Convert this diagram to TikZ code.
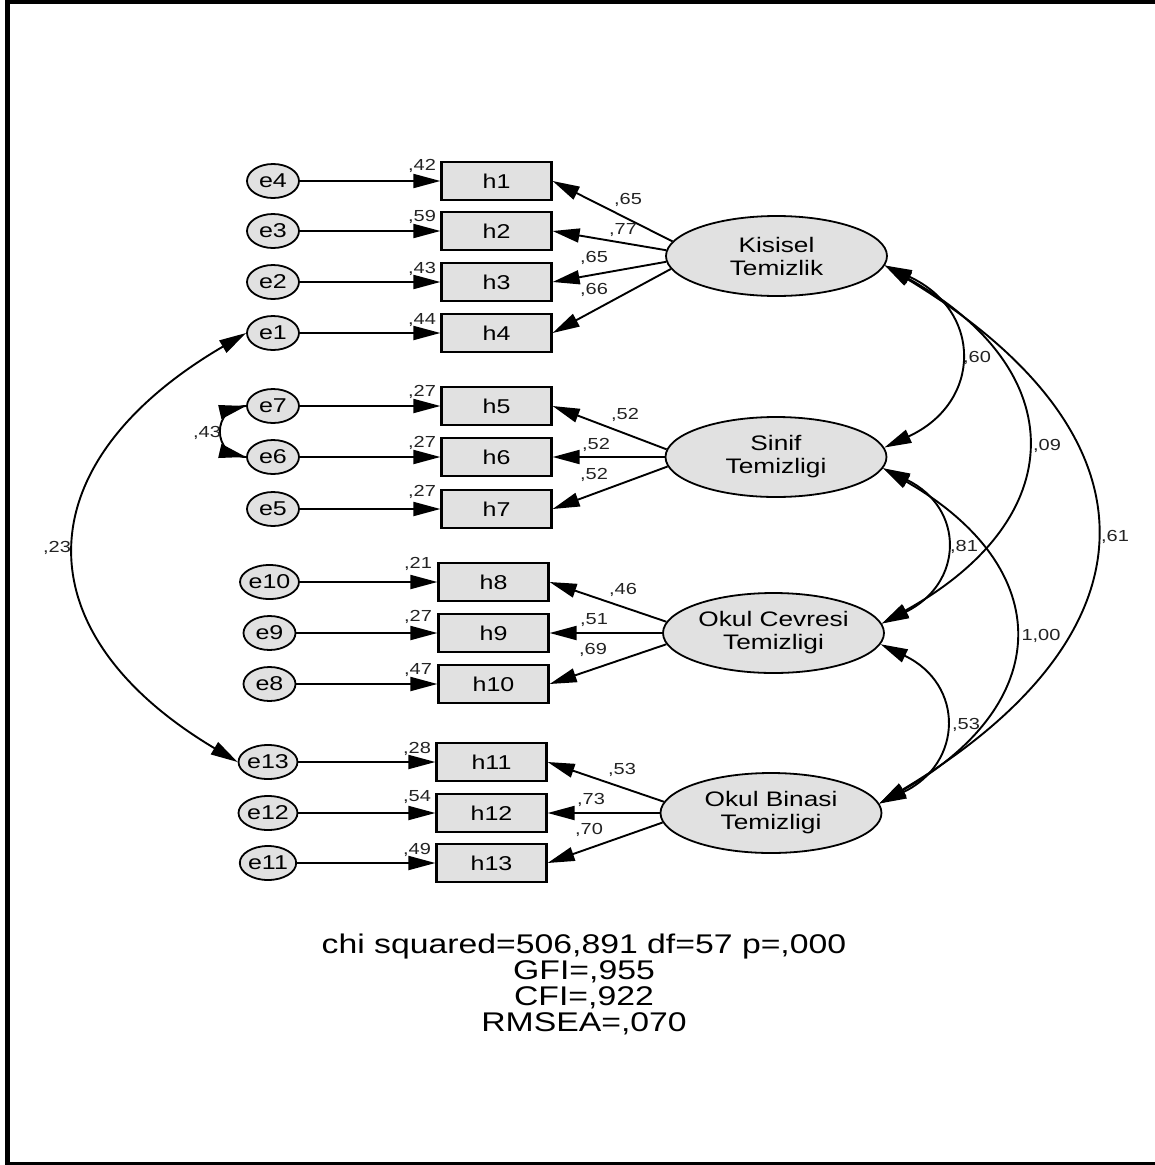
\documentclass[tikz,border=0pt]{standalone}
\usepackage{fontspec}
\setmainfont{Liberation Sans}[FakeStretch=1.25]
\usetikzlibrary{arrows.meta,shapes.geometric}
\definecolor{nodefill}{RGB}{225,225,225}
\definecolor{lblc}{RGB}{35,35,35}
\begin{document}
\begin{tikzpicture}[x=1pt,y=-1pt,
  errnode/.style={ellipse, draw, line width=1.8pt, fill=nodefill, minimum width=52pt, minimum height=34pt, inner sep=0pt, font=\fontsize{20}{22}\selectfont},
  obs/.style={rectangle, draw, line width=2.2pt, fill=nodefill, minimum width=110pt, minimum height=38pt, inner sep=0pt, font=\fontsize{20}{22}\selectfont},
  lat/.style={ellipse, draw, line width=1.8pt, fill=nodefill, minimum width=221pt, minimum height=80pt, inner sep=0pt, align=center, font=\fontsize{21}{23}\selectfont},
  lbl/.style={font=\fontsize{16}{18}\selectfont, text=lblc, inner sep=0pt},
  arr/.style={line width=1.9pt, -{Triangle[length=27pt,width=14pt]}},
  cov/.style={line width=1.9pt, {Triangle[length=27pt,width=14pt]}-{Triangle[length=27pt,width=14pt]}},
  plain/.style={line width=1.9pt}
]
\useasboundingbox (0,0) rectangle (1155,1165);
\fill[white] (0,0) rectangle (1155,1165);
% frame
\draw[line width=5pt] (7.5,0) -- (7.5,1165);
\draw[line width=4pt] (5,2) -- (1155,2);
\draw[line width=3pt] (5,1163.5) -- (1155,1163.5);

% latent variables
\node[lat] (K) at (776.5,256) {Kisisel\\Temizlik};
\node[lat] (S) at (776,457) {Sinif\\Temizligi};
\node[lat] (C) at (773.5,633) {Okul Cevresi\\Temizligi};
\node[lat] (B) at (771,813) {Okul Binasi\\Temizligi};

% observed
\node[obs] (h1) at (496.5,181) {h1};
\node[obs] (h2) at (496.5,231) {h2};
\node[obs] (h3) at (496.5,282) {h3};
\node[obs] (h4) at (496.5,333) {h4};
\node[obs] (h5) at (496.5,406) {h5};
\node[obs] (h6) at (496.5,457) {h6};
\node[obs] (h7) at (496.5,509) {h7};
\node[obs] (h8) at (493.5,582) {h8};
\node[obs] (h9) at (493.5,633) {h9};
\node[obs] (h10) at (493.5,684) {h10};
\node[obs] (h11) at (491.5,762) {h11};
\node[obs] (h12) at (491.5,813) {h12};
\node[obs] (h13) at (491.5,863) {h13};

% errors
\node[errnode] (e4) at (273,181) {e4};
\node[errnode] (e3) at (273,231) {e3};
\node[errnode] (e2) at (273,282) {e2};
\node[errnode] (e1) at (273,333) {e1};
\node[errnode] (e7) at (273,406) {e7};
\node[errnode] (e6) at (273,457) {e6};
\node[errnode] (e5) at (273,509) {e5};
\node[errnode] (e10) at (269.5,582) {e10};
\node[errnode] (e9) at (269.5,633) {e9};
\node[errnode] (e8) at (269.5,684) {e8};
\node[errnode] (e13) at (268,762) {e13};
\node[errnode] (e12) at (268,813) {e12};
\node[errnode] (e11) at (268,863) {e11};

% error arrows
\draw[arr] (e4) -- (h1);
\draw[arr] (e3) -- (h2);
\draw[arr] (e2) -- (h3);
\draw[arr] (e1) -- (h4);
\draw[arr] (e7) -- (h5);
\draw[arr] (e6) -- (h6);
\draw[arr] (e5) -- (h7);
\draw[arr] (e10) -- (h8);
\draw[arr] (e9) -- (h9);
\draw[arr] (e8) -- (h10);
\draw[arr] (e13) -- (h11);
\draw[arr] (e12) -- (h12);
\draw[arr] (e11) -- (h13);

% loadings
\draw[arr] (K.172.5) -- (h1.east);
\draw[arr] (K.177) -- (h2.east);
\draw[arr] (K.183) -- (h3.east);
\draw[arr] (K.187.5) -- (h4.east);
\draw[arr] (S.176) -- (h5.east);
\draw[arr] (S.180) -- (h6.east);
\draw[arr] (S.185) -- (h7.east);
\draw[arr] (C.174) -- (h8.east);
\draw[arr] (C.180) -- (h9.east);
\draw[arr] (C.186) -- (h10.east);
\draw[arr] (B.174) -- (h11.east);
\draw[arr] (B.180) -- (h12.east);
\draw[arr] (B.185) -- (h13.east);

% covariances right
\draw[cov] (K.-5) .. controls +(98,45) and +(98,-45) .. (S.5);
\draw[cov] (K.-5) .. controls +(188,105) and +(190,-105) .. (C.5);
\draw[cov] (K.-5) .. controls +(281,170) and +(284,-170) .. (B.5);
\draw[cov] (S.-6) .. controls +(82,40) and +(82,-40) .. (C.5);
\draw[cov] (S.-6) .. controls +(174,100) and +(176,-100) .. (B.5);
\draw[cov] (C.-6) .. controls +(84,40) and +(84,-40) .. (B.5);

% covariances left
\draw[cov] (e1.west) .. controls +(-222,130) and +(-218,-130) .. (e13.west);
\draw[plain] (e7.west) .. controls +(-35,0) and +(-35,0) .. (e6.west);
\draw[arr] ([shift={(-26,6)}]e7.west) -- (e7.west);
\draw[arr] ([shift={(-26,-6)}]e6.west) -- (e6.west);

% labels: squared multiple correlations
\node[lbl] (r1) at (422,166) {,42};
\node[lbl] (r2) at (422,217) {,59};
\node[lbl] (r3) at (422,269) {,43};
\node[lbl] (r4) at (422,320) {,44};
\node[lbl] (r5) at (422,392) {,27};
\node[lbl] (r6) at (422,443) {,27};
\node[lbl] (r7) at (422,492) {,27};
\node[lbl] (r8) at (418,564) {,21};
\node[lbl] (r9) at (418,617) {,27};
\node[lbl] (r10) at (418,670) {,47};
\node[lbl] (r11) at (417,749) {,28};
\node[lbl] (r12) at (417,797) {,54};
\node[lbl] (r13) at (417,850) {,49};

% labels: loadings
\node[lbl] (l1) at (628,200) {,65};
\node[lbl] (l2) at (623,230) {,77};
\node[lbl] (l3) at (594,258) {,65};
\node[lbl] (l4) at (594,290) {,66};
\node[lbl] (l5) at (625,415) {,52};
\node[lbl] (l6) at (596,445) {,52};
\node[lbl] (l7) at (594,475) {,52};
\node[lbl] (l8) at (623,590) {,46};
\node[lbl] (l9) at (594,620) {,51};
\node[lbl] (l10) at (593,650) {,69};
\node[lbl] (l11) at (622,770) {,53};
\node[lbl] (l12) at (591,800) {,73};
\node[lbl] (l13) at (589,830) {,70};

% labels: covariances
\node[lbl] (c1) at (977,358) {,60};
\node[lbl] (c2) at (1047,446) {,09};
\node[lbl] (c3) at (1115,537) {,61};
\node[lbl] (c4) at (964,547) {,81};
\node[lbl] (c5) at (1041,636) {1,00};
\node[lbl] (c6) at (966,725) {,53};
\node[lbl] (c7) at (207,433) {,43};
\node[lbl] (c8) at (57,548) {,23};

% fit statistics
\node[font=\fontsize{27}{26}\selectfont, align=center, inner sep=0pt] (fit) at (584,984)
  {chi squared=506,891 df=57 p=,000\\GFI=,955\\CFI=,922\\RMSEA=,070};
\end{tikzpicture}
\end{document}
